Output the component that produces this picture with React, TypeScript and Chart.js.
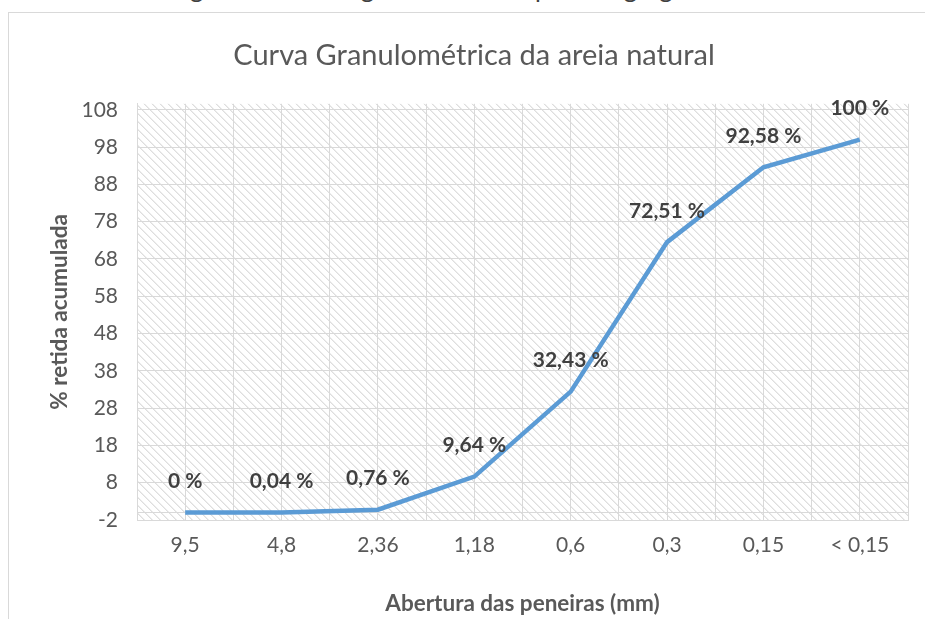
import React, { useEffect, useRef } from 'react';
import { Chart, registerables } from 'chart.js';

Chart.register(...registerables);

const chartTitle = 'Curva Granulométrica da areia natural';
const captionText = 'Figura 4 – Curva granulométrica para o agregado miúdo';
const xTitle = 'Abertura das peneiras (mm)';
const yTitle = '% retida acumulada';

const categories = ['9,5', '4,8', '2,36', '1,18', '0,6', '0,3', '0,15', '< 0,15'];
const retained = [0, 0.04, 0.76, 9.64, 32.43, 72.51, 92.58, 100];
const yTicks = [-2, 8, 18, 28, 38, 48, 58, 68, 78, 88, 98, 108];
const yAxisCross = 0;
const yMin = -2;
const yMax = 109.6;

const FONT = 'Lato';
const TEXT = '#595959';
const GRID = '#d9d9d9';
const CANVAS_W = 940;
const CANVAS_H = 619;

const fmt = (v: number) => `${String(v).replace('.', ',')} %`;

const hatchPlugin = {
  id: 'hatch',
  beforeDraw(chart: any) {
    const { ctx, chartArea: a } = chart;
    const tile = document.createElement('canvas');
    tile.width = 8;
    tile.height = 8;
    const t = tile.getContext('2d')!;
    t.fillStyle = '#ffffff';
    t.fillRect(0, 0, 8, 8);
    for (let y = 0; y < 8; y++) {
      for (let x = 0; x < 8; x++) {
        const d = (((x - y) % 8) + 8) % 8;
        if (d === 0) {
          t.fillStyle = '#dedede';
          t.fillRect(x, y, 1, 1);
        } else if (d === 1) {
          t.fillStyle = '#ededed';
          t.fillRect(x, y, 1, 1);
        }
      }
    }
    const pat = ctx.createPattern(tile, 'repeat');
    ctx.save();
    ctx.fillStyle = pat;
    ctx.fillRect(a.left, a.top, a.right - a.left, a.bottom - a.top);
    ctx.restore();
  },
};

const labelPlugin = {
  id: 'valueLabels',
  afterDatasetsDraw(chart: any) {
    const { ctx } = chart;
    const meta = chart.getDatasetMeta(0);
    ctx.save();
    ctx.font = `bold 21px ${FONT}`;
    ctx.fillStyle = '#404040';
    ctx.textAlign = 'center';
    ctx.textBaseline = 'middle';
    meta.data.forEach((pt: any, i: number) => {
      ctx.fillText(fmt(retained[i]), pt.x, pt.y - 31);
    });
    ctx.restore();
  },
};

export default function App() {
  const ref = useRef<HTMLCanvasElement>(null);

  useEffect(() => {
    const chart = new Chart(ref.current as HTMLCanvasElement, {
      type: 'line',
      data: {
        datasets: [
          {
            data: retained.map((v, i) => ({ x: i, y: v })),
            borderColor: '#5B9BD5',
            borderWidth: 4.5,
            pointRadius: 0,
            tension: 0,
            fill: false,
            yAxisID: 'y',
          },
        ],
      },
      options: {
        responsive: false,
        animation: false,
        devicePixelRatio: 1,
        layout: { padding: { left: 8, right: 0, top: 0, bottom: 0 } },
        plugins: {
          legend: { display: false },
          tooltip: { enabled: false },
          title: {
            display: true,
            text: chartTitle,
            color: TEXT,
            font: { family: FONT, size: 29, weight: 'normal' },
            padding: { top: 38, bottom: 31 },
          },
        },
        scales: {
          x: {
            type: 'linear',
            min: -0.5,
            max: categories.length - 0.5,
            afterBuildTicks: (scale: any) => {
              const ticks = [];
              for (let v = -0.5; v <= categories.length - 0.5 + 1e-9; v += 0.5) ticks.push({ value: v });
              scale.ticks = ticks;
            },
            afterFit: (scale: any) => {
              scale.height = 99;
            },
            ticks: {
              autoSkip: false,
              maxRotation: 0,
              padding: 13,
              color: TEXT,
              font: { family: FONT, size: 21 },
              callback: (value: any) => {
                const v = Number(value);
                return Number.isInteger(v) && categories[v] !== undefined ? categories[v] : '';
              },
            },
            grid: { color: GRID, lineWidth: 1, drawTicks: false },
            border: { color: GRID },
            title: {
              display: true,
              text: xTitle,
              color: TEXT,
              font: { family: FONT, size: 22.5, weight: 'bold' },
              padding: { top: 0, bottom: 1.5 },
            },
          },
          y: {
            type: 'linear',
            position: 'left',
            min: yMin,
            max: yMax,
            afterBuildTicks: (scale: any) => {
              const vals = [...yTicks, yAxisCross].sort((a, b) => a - b);
              scale.ticks = vals.map((v) => ({ value: v }));
            },
            afterFit: (scale: any) => {
              scale.width = 129;
            },
            ticks: {
              autoSkip: false,
              padding: 19,
              color: TEXT,
              font: { family: FONT, size: 21 },
              callback: (value: any) => (yTicks.includes(Number(value)) ? String(value) : ''),
            },
            grid: { color: GRID, lineWidth: 1, drawTicks: false },
            border: { color: GRID },
            title: {
              display: true,
              text: yTitle,
              color: TEXT,
              font: { family: FONT, size: 22.5, weight: 'bold' },
              padding: { top: 38.5, bottom: 0 },
            },
          },
          yRightSpace: {
            type: 'linear',
            position: 'right',
            display: true,
            min: yMin,
            max: yMax,
            afterFit: (scale: any) => {
              scale.width = CANVAS_W - 908;
            },
            ticks: { display: false },
            grid: { display: false, drawOnChartArea: false },
            border: { display: false },
          },
        },
      },
      plugins: [hatchPlugin, labelPlugin],
    } as any);
    return () => chart.destroy();
  }, []);

  return (
    <div
      style={{
        position: 'fixed',
        left: 0,
        top: 0,
        width: 925,
        height: 619,
        overflow: 'hidden',
        background: '#ffffff',
      }}
    >
      <div
        style={{
          position: 'absolute',
          left: 0,
          top: -24,
          width: 960,
          textAlign: 'center',
          fontFamily: FONT,
          fontSize: 25.5,
          lineHeight: '25.5px',
          color: '#404040',
          whiteSpace: 'nowrap',
        }}
      >
        {captionText}
      </div>
      <div
        style={{
          position: 'absolute',
          left: 8,
          top: 12,
          width: 1000,
          height: 1000,
          border: '1.5px solid #d9d9d9',
        }}
      />
      <canvas
        ref={ref}
        width={CANVAS_W}
        height={CANVAS_H}
        style={{ position: 'absolute', left: 0, top: 0, width: CANVAS_W, height: CANVAS_H }}
      />
    </div>
  );
}
